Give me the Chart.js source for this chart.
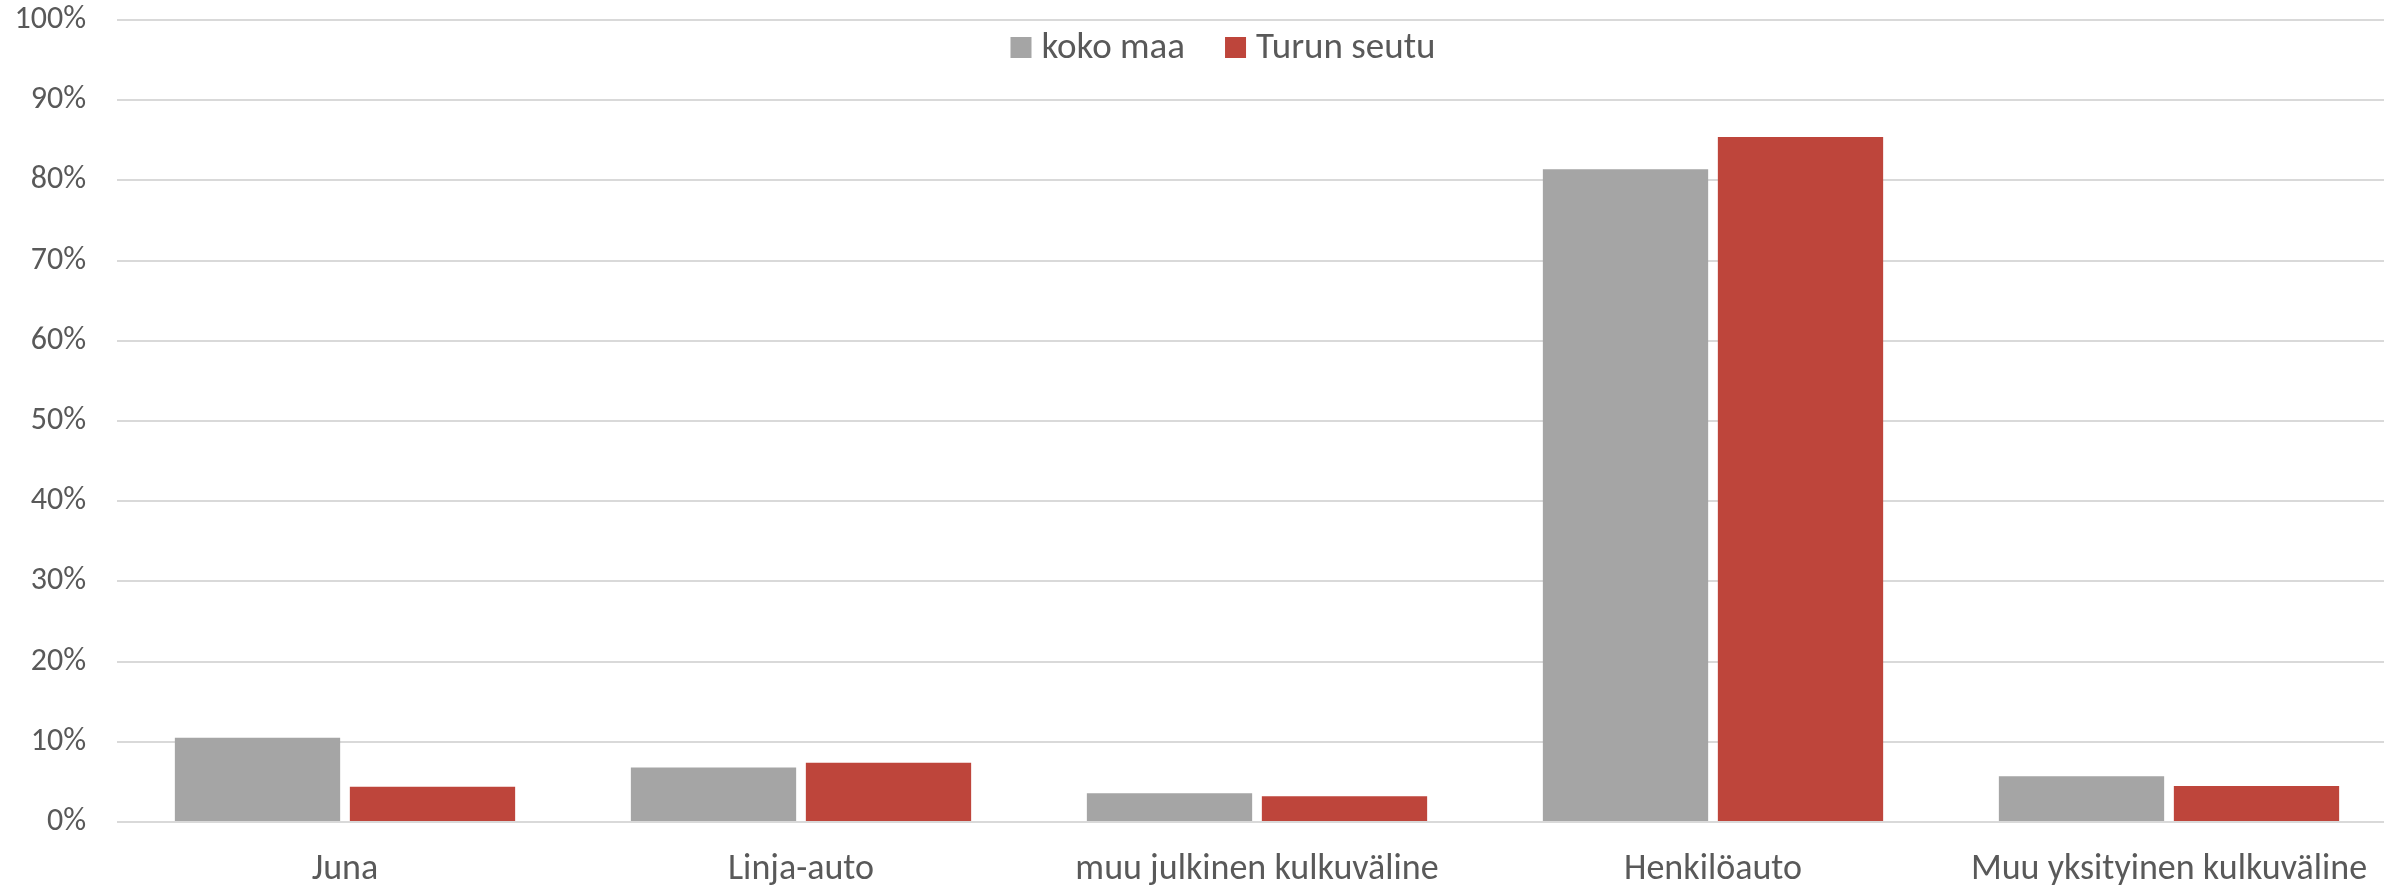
<!DOCTYPE html>
<html>
<head>
<meta charset="utf-8">
<script src="https://cdn.jsdelivr.net/npm/chart.js@4.4.0/dist/chart.umd.min.js"></script>
<style>
html,body{margin:0;padding:0;background:#fff;}
#wrap{width:2384px;height:889px;position:relative;}
</style>
</head>
<body>
<div id="wrap"><canvas id="c" width="2384" height="889"></canvas></div>
<script>
const categories = ["Juna", "Linja-auto", "muu julkinen kulkuväline", "Henkilöauto", "Muu yksityinen kulkuväline"];
const kokoMaa = [10.5, 6.8, 3.6, 81.4, 5.7];
const turunSeutu = [4.4, 7.4, 3.2, 85.4, 4.5];
const seriesNames = ["koko maa", "Turun seutu"];
const yTicks = [0, 10, 20, 30, 40, 50, 60, 70, 80, 90, 100];

const FONT = "Carlito, Calibri, Lato, 'Liberation Sans', sans-serif";
const TXT = '#595959';

// The reference plot area runs slightly past the right edge of the picture
const extendArea = {
  id: 'extendArea',
  afterLayout(chart) {
    const extra = 13;
    const xs = chart.scales.x;
    xs.right += extra;
    xs.width += extra;
    xs.configure();
    chart.chartArea.right += extra;
    chart.chartArea.width += extra;
  }
};

// Legend drawn inside the plot area near the top (as in the reference)
const insideLegend = {
  id: 'insideLegend',
  afterDraw(chart) {
    const ctx = chart.ctx;
    const size = 37, box = 21, gapText = 10, gapItem = 40;
    const centerX = 1223, centerY = 47.5;
    ctx.save();
    ctx.font = size + 'px ' + FONT;
    const items = chart.data.datasets.map(ds => ({ text: ds.label, color: ds.backgroundColor, w: ctx.measureText(ds.label).width }));
    let total = 0;
    items.forEach((it, i) => { total += box + gapText + it.w + (i < items.length - 1 ? gapItem : 0); });
    let x = centerX - total / 2;
    ctx.textBaseline = 'middle';
    ctx.textAlign = 'left';
    items.forEach(it => {
      ctx.fillStyle = it.color;
      ctx.fillRect(x, centerY - box / 2, box, box);
      x += box + gapText;
      ctx.fillStyle = TXT;
      ctx.fillText(it.text, x, centerY + 1);
      x += it.w + gapItem;
    });
    ctx.restore();
  }
};

new Chart(document.getElementById('c'), {
  type: 'bar',
  data: {
    labels: categories,
    datasets: [
      { label: seriesNames[0], data: kokoMaa, backgroundColor: '#a5a5a5', categoryPercentage: 0.7675, barPercentage: 0.9446 },
      { label: seriesNames[1], data: turunSeutu, backgroundColor: '#be453b', categoryPercentage: 0.7675, barPercentage: 0.9446 }
    ]
  },
  plugins: [extendArea, insideLegend],
  options: {
    responsive: false,
    animation: false,
    devicePixelRatio: 1,
    layout: { padding: { top: 20, right: 0, left: 0, bottom: 0 } },
    plugins: {
      tooltip: { enabled: false },
      legend: { display: false }
    },
    scales: {
      x: {
        grid: { display: false, drawTicks: false },
        border: { display: false },
        ticks: { color: TXT, font: { family: FONT, size: 36 }, padding: 26, maxRotation: 0, autoSkip: false },
        afterFit: s => { s.height = 67; s.paddingLeft = 0; s.paddingRight = 0; }
      },
      y: {
        min: 0, max: 100,
        afterBuildTicks: s => { s.ticks = yTicks.map(v => ({ value: v })); },
        grid: { color: '#d9d9d9', lineWidth: 2, drawTicks: false },
        border: { display: false },
        ticks: { color: TXT, font: { family: FONT, size: 32 }, padding: 31, callback: v => v + '%' },
        afterFit: s => { s.width = 117; s.paddingTop = 0; s.paddingBottom = 0; }
      }
    }
  }
});
</script>
</body>
</html>
